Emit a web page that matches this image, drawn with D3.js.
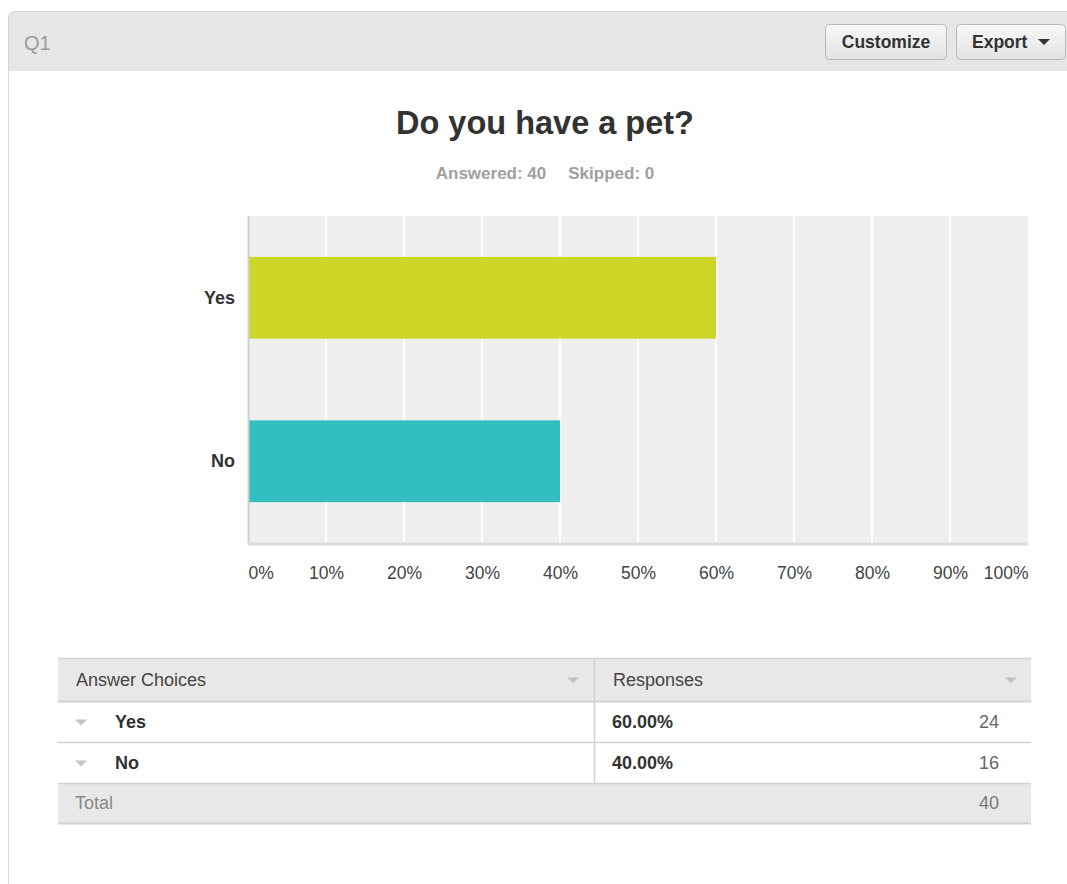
<!DOCTYPE html>
<html>
<head>
<meta charset="utf-8">
<script src="https://cdn.jsdelivr.net/npm/d3@7"></script>
<style>
  html, body { margin: 0; padding: 0; background: #fff; }
  svg { display: block; font-family: "Liberation Sans", Arial, Helvetica, sans-serif; }
</style>
</head>
<body>
<svg id="chart" width="1067" height="884"></svg>
<script>
// Survey question data
const questionId = "Q1";
const questionTitle = "Do you have a pet?";
const answeredCount = 40;
const skippedCount = 0;
const categories = ["Yes", "No"];
const percentages = [60, 40];
const counts = [24, 16];
const barColors = ["#cdd526", "#33bec0"];
const tickValues = [0, 10, 20, 30, 40, 50, 60, 70, 80, 90, 100];
const tickLabels = ["0%", "10%", "20%", "30%", "40%", "50%", "60%", "70%", "80%", "90%", "100%"];
const tableHeaders = ["Answer Choices", "Responses"];

const svg = d3.select("#chart");
const W = 1067, H = 884;

// Panel frame and header band
svg.append("line").attr("x1", 8.5).attr("x2", 8.5).attr("y1", 20).attr("y2", H)
  .attr("stroke", "#d6d6d6").attr("stroke-width", 1);
svg.append("path")
  .attr("d", `M8,71 L8,19 Q8,11 16,11 L${W},11 L${W},71 Z`)
  .attr("fill", "#e6e6e4");
svg.append("path")
  .attr("d", `M8.5,71 L8.5,19 Q8.5,11.5 16,11.5 L${W},11.5`)
  .attr("fill", "none").attr("stroke", "#d6d6d6");
svg.append("text").attr("x", 24).attr("y", 50).text(questionId)
  .attr("font-size", 20).attr("fill", "#9a9a9a");

// Header buttons
const defs = svg.append("defs");
const grad = defs.append("linearGradient").attr("id", "btnGrad").attr("x1", 0).attr("x2", 0).attr("y1", 0).attr("y2", 1);
grad.append("stop").attr("offset", "0%").attr("stop-color", "#f8f8f8");
grad.append("stop").attr("offset", "100%").attr("stop-color", "#e2e2e2");
const buttons = [
  { label: "Customize", x: 825, w: 121 },
  { label: "Export", x: 956, w: 109, caret: true }
];
buttons.forEach(b => {
  svg.append("rect").attr("x", b.x + 0.5).attr("y", 24.5).attr("width", b.w).attr("height", 35)
    .attr("rx", 4).attr("fill", "url(#btnGrad)").attr("stroke", "#b9b9b9");
  const t = svg.append("text").attr("y", 48).attr("font-size", 17.5).attr("font-weight", "bold").attr("fill", "#333")
    .text(b.label);
  if (b.caret) {
    t.attr("x", b.x + 16);
    const cx = b.x + 88;
    svg.append("path").attr("d", `M${cx - 6},39 L${cx + 6},39 L${cx},45 Z`).attr("fill", "#333");
  } else {
    t.attr("x", b.x + b.w / 2 + 0.5).attr("text-anchor", "middle");
  }
});

// Title and answered/skipped summary
svg.append("text").attr("x", 545).attr("y", 134).attr("text-anchor", "middle")
  .attr("font-size", 32.5).attr("font-weight", "bold").attr("fill", "#333").text(questionTitle);
const summary = svg.append("text").attr("x", 545).attr("y", 179).attr("text-anchor", "middle")
  .attr("font-size", 17).attr("font-weight", "bold").attr("fill", "#a0a0a0");
summary.append("tspan").text(`Answered: ${answeredCount}`);
summary.append("tspan").attr("dx", 22).text(`Skipped: ${skippedCount}`);

// Bar chart
const plot = { left: 248, right: 1028, top: 216, bottom: 543 };
const x = d3.scaleLinear().domain([0, 100]).range([plot.left, plot.right]);
const y = d3.scaleBand().domain(categories).range([plot.top, plot.bottom])
  .paddingInner(0.5).paddingOuter(0.25);

svg.append("rect").attr("x", plot.left).attr("y", plot.top)
  .attr("width", plot.right - plot.left).attr("height", plot.bottom - plot.top)
  .attr("fill", "#efefef");

// Vertical gridlines
svg.append("g").selectAll("line").data(tickValues.slice(1, -1)).join("line")
  .attr("x1", d => x(d)).attr("x2", d => x(d))
  .attr("y1", plot.top).attr("y2", plot.bottom)
  .attr("stroke", "#ffffff").attr("stroke-width", 2);

// Bars
svg.append("g").selectAll("rect").data(categories).join("rect")
  .attr("x", x(0))
  .attr("y", d => y(d))
  .attr("width", (d, i) => x(percentages[i]) - x(0))
  .attr("height", y.bandwidth())
  .attr("fill", (d, i) => barColors[i]);

// Axis lines
svg.append("line").attr("x1", plot.left + 0.5).attr("x2", plot.left + 0.5)
  .attr("y1", plot.top).attr("y2", plot.bottom).attr("stroke", "#cfcfcf").attr("stroke-width", 2);
svg.append("line").attr("x1", plot.left).attr("x2", plot.right)
  .attr("y1", plot.bottom + 1).attr("y2", plot.bottom + 1).attr("stroke", "#dcdcdc").attr("stroke-width", 3);

// Category axis
const yAxis = svg.append("g").attr("transform", `translate(${plot.left - 13},0)`)
  .call(d3.axisLeft(y).tickSize(0).tickPadding(0));
yAxis.select(".domain").remove();
yAxis.selectAll("text").attr("font-size", 18).attr("font-weight", "bold").attr("fill", "#333")
  .attr("font-family", "Liberation Sans, Arial, sans-serif");

// Percentage axis
const xAxis = svg.append("g").attr("transform", `translate(0,${plot.bottom + 36})`)
  .call(d3.axisBottom(x).tickValues(tickValues).tickSize(0).tickPadding(0)
    .tickFormat((d, i) => tickLabels[i]));
xAxis.select(".domain").remove();
xAxis.selectAll("text").attr("font-size", 17.5).attr("fill", "#444")
  .attr("font-family", "Liberation Sans, Arial, sans-serif")
  .attr("dy", "0")
  .attr("text-anchor", (d, i) => i === 0 ? "start" : (i === tickValues.length - 1 ? "end" : "middle"));

// Summary table
const tbl = { left: 58, right: 1031, divider: 594, rows: [658, 701, 742, 783, 823] };
const tg = svg.append("g");
tg.append("rect").attr("x", tbl.left).attr("y", tbl.rows[0]).attr("width", tbl.right - tbl.left)
  .attr("height", tbl.rows[1] - tbl.rows[0]).attr("fill", "#e8e8e8");
tg.append("rect").attr("x", tbl.left).attr("y", tbl.rows[3]).attr("width", tbl.right - tbl.left)
  .attr("height", tbl.rows[4] - tbl.rows[3]).attr("fill", "#e8e8e8");
tbl.rows.forEach((ry, i) => {
  tg.append("line").attr("x1", tbl.left).attr("x2", tbl.right).attr("y1", ry + 0.5).attr("y2", ry + 0.5)
    .attr("stroke", "#d2d2d2").attr("stroke-width", i === 4 || i === 1 ? 2 : 1.5);
});
tg.append("line").attr("x1", tbl.divider + 0.5).attr("x2", tbl.divider + 0.5)
  .attr("y1", tbl.rows[0]).attr("y2", tbl.rows[3]).attr("stroke", "#d2d2d2").attr("stroke-width", 1.5);

const caret = (cx, cy, color) => tg.append("path")
  .attr("d", `M${cx - 6},${cy - 3} L${cx + 6},${cy - 3} L${cx},${cy + 3} Z`).attr("fill", color);

const headerY = (tbl.rows[0] + tbl.rows[1]) / 2 + 6;
tg.append("text").attr("x", 76).attr("y", headerY).attr("font-size", 18).attr("fill", "#444").text(tableHeaders[0]);
tg.append("text").attr("x", 613).attr("y", headerY).attr("font-size", 18).attr("fill", "#444").text(tableHeaders[1]);
caret(573, headerY - 5, "#c4c4c4");
caret(1011, headerY - 5, "#c4c4c4");

categories.forEach((c, i) => {
  const ty = (tbl.rows[i + 1] + tbl.rows[i + 2]) / 2 + 6;
  caret(81, ty - 5, "#c4c4c4");
  tg.append("text").attr("x", 115).attr("y", ty).attr("font-size", 18).attr("font-weight", "bold")
    .attr("fill", "#333").text(c);
  tg.append("text").attr("x", 612).attr("y", ty).attr("font-size", 18).attr("font-weight", "bold")
    .attr("fill", "#333").text(percentages[i].toFixed(2) + "%");
  tg.append("text").attr("x", 999).attr("y", ty).attr("text-anchor", "end").attr("font-size", 18)
    .attr("fill", "#666").text(counts[i]);
});
const totalY = (tbl.rows[3] + tbl.rows[4]) / 2 + 6;
tg.append("text").attr("x", 75).attr("y", totalY).attr("font-size", 18).attr("fill", "#888").text("Total");
tg.append("text").attr("x", 999).attr("y", totalY).attr("text-anchor", "end").attr("font-size", 18)
  .attr("fill", "#777").text(d3.sum(counts));
</script>
</body>
</html>
